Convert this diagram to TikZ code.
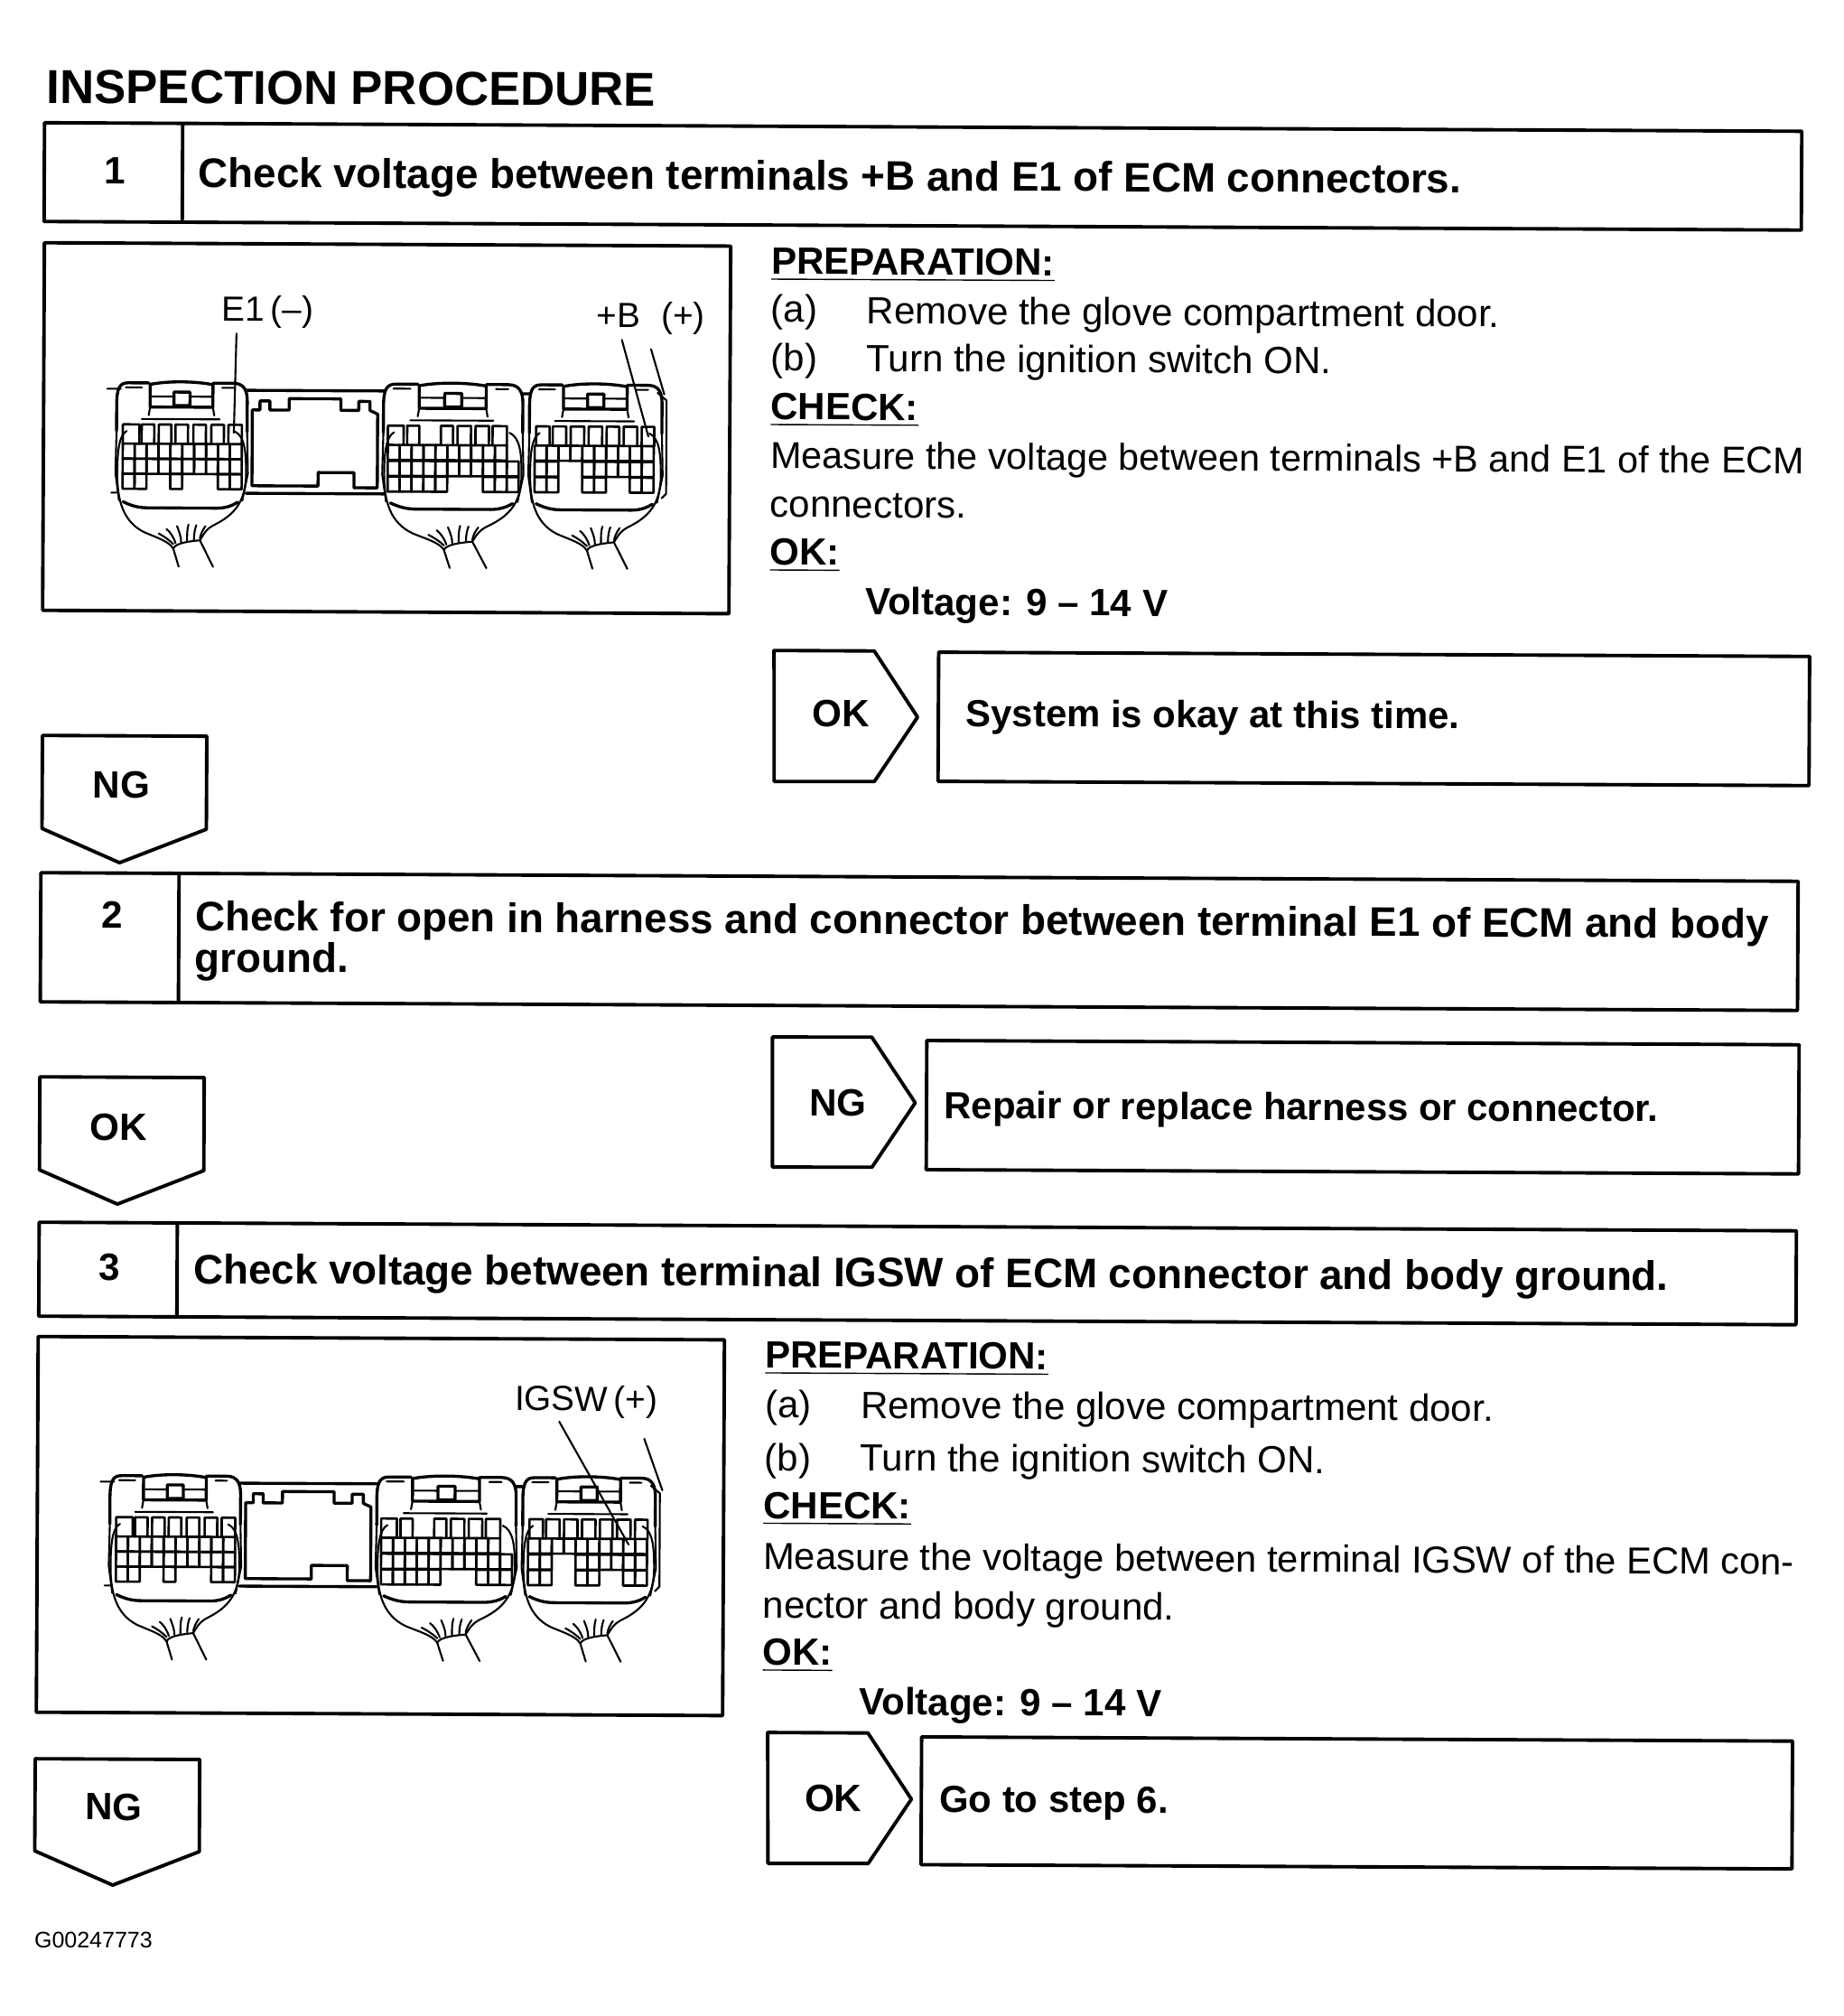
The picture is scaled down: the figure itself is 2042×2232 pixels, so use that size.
\documentclass[tikz,border=0pt]{standalone}
\usepackage{fontspec}
\setmainfont{Liberation Sans}
\newcommand{\plugrow}[3]{\foreach \col in {#3} \draw[cellline] ({#1+\col*26.5},#2) rectangle ++(26.5,50);}
\newcommand{\plugtop}[1]{\foreach \ca/\cb in {#1} \draw[cellline] (\ca,692) -- (\ca,628) -- (\cb,628) -- (\cb,692);}
\newcommand{\plugshell}[2]{%
	\begin{scope}[shift={(#1,0)},xscale=#2]
		\draw[thickline] (0,650) -- (0,565) .. controls (0,510) and (5,490) .. (25,490) -- (70,490);
		\draw[thickline] (210,490) -- (255,490) .. controls (278,490) and (285,515) .. (285,550) -- (285,650);
		\draw[thickline] (73,570) -- (73,495) .. controls (110,483) and (170,483) .. (210,495) -- (210,570) -- cycle;
		\draw[thickline] (125,520) rectangle (160,565);
		\draw[thinline] (75,535) -- (125,535) (160,535) -- (208,535);
		\draw[thinline] (73,570) -- (70,597) (210,570) -- (213,597);
		\draw[thinline] (55,610) -- (225,610) (20,505) -- (55,505) (230,505) -- (255,505);
		\draw[thinline] (22,650) .. controls (5,665) and (2,720) .. (2,790) .. controls (2,880) and (15,950) .. (60,985) .. controls (90,1005) and (115,1015) .. (125,1040);
		\draw[thinline] (258,650) .. controls (280,665) and (283,720) .. (283,790) .. controls (283,880) and (260,925) .. (215,960) .. controls (195,975) and (190,995) .. (183,1012);
		\draw[thinline] (0,650) -- (-2,790) -- (6,880) (285,650) -- (287,790) -- (275,880);
		\draw[thickline] (15,885) .. controls (35,900) and (50,905) .. (70,905) -- (220,905) .. controls (240,905) and (255,895) .. (265,885);
		\draw[thinline] (125,1040) .. controls (130,1020) and (165,1015) .. (183,1012);
		\draw[thinline] (125,1040) -- (137,1100) (183,1012) -- (212,1100);
		\draw[thinline] (125,1025) .. controls (115,1010) and (105,1000) .. (93,990);
		\draw[thinline] (130,1022) .. controls (125,1000) and (118,985) .. (110,975);
		\draw[thinline] (142,1018) .. controls (142,1000) and (138,985) .. (133,965);
		\draw[thinline] (155,1015) .. controls (155,990) and (155,975) .. (158,960);
		\draw[thinline] (170,1012) .. controls (170,990) and (172,975) .. (175,962);
		\draw[thinline] (183,1005) .. controls (185,990) and (190,975) .. (195,965);
	\end{scope}}
\newcommand{\ecmunit}[2]{%
	\begin{scope}[shift={(#1,#2)},xscale=0.4975,yscale=0.3333]
		\plugshell{181}{1.02}
		\plugshell{775}{1.088}
		\plugshell{1100}{1.035}
		\draw[thinline] (160,510) -- (190,510) (170,855) -- (185,855);
		\draw[thickline] (470,513) -- (778,513) (470,855) -- (778,855) (1085,520) -- (1100,520);
		\draw[thickline] (483,830) -- (483,578) -- (500,578) -- (500,548) -- (522,548) -- (522,578) -- (565,578) -- (565,540) -- (680,540) -- (680,578) -- (720,578) -- (720,548) -- (745,548) -- (745,578) -- (762,590) -- (762,835) -- (710,835) -- (710,785) -- (630,785) -- (630,830) -- cycle;
		\draw[thinline] (1385,515) -- (1405,540) -- (1405,850) -- (1395,865);
		\plugtop{195/232,237/265,275/303,312/340,352/380,392/420,430/460}
		\plugrow{195}{692}{0,...,9}
		\plugrow{195}{742}{0,...,9}
		\plugrow{195}{792}{0,1,4,8,9}
		\plugtop{785/820,828/855,903/930,940/970,980/1010,1018/1050}
		\plugrow{785}{692}{0,...,9}
		\plugrow{785}{745}{0,...,10}
		\plugrow{785}{797}{0,1,2,3,4,8,9,10}
		\plugtop{1115/1145,1152/1182,1192/1222,1232/1262,1272/1300,1310/1340,1350/1378}
		\plugrow{1112}{692}{0,...,9}
		\plugrow{1112}{745}{0,1,4,5,6,7,8,9}
		\plugrow{1112}{797}{0,1,4,5,8,9}
	\end{scope}}
\begin{document}
\begin{tikzpicture}[x=0.01cm, y=-0.01cm, line join=round, line cap=round,
	frameline/.style={line width=1.1pt},
	thickline/.style={line width=0.95pt},
	thinline/.style={line width=0.6pt},
	cellline/.style={line width=0.75pt},
	titletext/.style={anchor=base west, inner sep=0pt, font=\fontsize{15}{18}\selectfont\bfseries},
	boldtext/.style={anchor=base west, inner sep=0pt, font=\fontsize{13}{13}\selectfont\bfseries},
	resulttext/.style={anchor=base west, inner sep=0pt, font=\fontsize{11.9}{14}\selectfont\bfseries},
	bodytext/.style={anchor=base west, inner sep=0pt, font=\fontsize{11.95}{14}\selectfont},
	tagtext/.style={anchor=center, inner sep=0pt, font=\fontsize{12}{15}\selectfont\bfseries},
	calltext/.style={anchor=base west, inner sep=0pt, font=\fontsize{11}{13}\selectfont}]
	\useasboundingbox (0,0) rectangle (2042,2232);
	\begin{scope}[rotate=-0.28, transform shape]
		\node[titletext] (title) at (51.6,113.8) {INSPECTION PROCEDURE};
		% step 1
		\draw[frameline] (50,135.6) rectangle (1996,245) (203,135.6) -- (203,245);
		\node[tagtext] (numone) at (128,188.5) {1};
		\node[boldtext] (stepone) at (220,206) {Check voltage between terminals +B and E1 of ECM connectors.};
		\draw[frameline] (50.5,268.5) rectangle (810.5,675.5);
		\ecmunit{41.35}{259.8}
		\node[calltext] (callea) at (247,354) {E1\,(–)};
		\node[calltext] (callb) at (662,359) {+B\hspace{0.6em}(+)};
		\coordinate (eatop) at (263.7,368.1);
		\coordinate (eatip) at (261.3,478);
		\coordinate (btop) at (690.6,373.1);
		\coordinate (btip) at (720.4,479.8);
		\coordinate (bpluss) at (722.9,383.1);
		\coordinate (bplust) at (737.8,433.1);
		\draw[thinline] (eatop) -- (eatip);
		\draw[thinline] (btop) -- (btip);
		\draw[thinline] (bpluss) -- (bplust);
		\node[bodytext] (prepone) at (855,299.5) {\textbf{\underline{PREPARATION:}}};
		\node[bodytext] (aone) at (855,352.5) {(a)};
		\node[bodytext] (aonet) at (961,354) {Remove the glove compartment door.};
		\node[bodytext] (bone) at (855,406.5) {(b)};
		\node[bodytext] (bonet) at (961,406.5) {Turn the ignition switch ON.};
		\node[bodytext] (checkone) at (855,460.5) {\textbf{\underline{CHECK:}}};
		\node[bodytext, font=\fontsize{11.75}{14}\selectfont] (measone) at (855,514.5) {Measure the voltage between terminals +B and E1 of the ECM};
		\node[bodytext] (conone) at (855,568.5) {connectors.};
		\node[bodytext] (okone) at (855,621.5) {\textbf{\underline{OK:}}};
		\node[bodytext] (voltone) at (961,676) {\textbf{Voltage: 9 – 14 V}};
		\draw[frameline] (860.7,716) -- (971.7,716) -- (1020,789) -- (972.5,860.5) -- (861.5,861) -- cycle;
		\node[tagtext] (tagokone) at (935,785.5) {OK};
		\draw[frameline] (1043,717) rectangle (2007.5,860);
		\node[resulttext] (okresult) at (1073,799) {System is okay at this time.};
		\draw[frameline] (51,814) -- (233,814) -- (233,917) -- (137,954.5) -- (51,917) -- cycle;
		\node[tagtext] (tagngone) at (138.5,868) {NG};
		% step 2
		\draw[frameline] (50,966) rectangle (1996,1109) (203,966) -- (203,1109);
		\node[tagtext] (numtwo) at (129,1012) {2};
		\node[boldtext, align=left] (steptwo) at (220.4,1075) {Check for open in harness and connector between terminal E1 of ECM and body\\ground.};
		\draw[frameline] (50,1192) -- (232,1192) -- (232,1295) -- (136.5,1332.5) -- (50,1295) -- cycle;
		\node[tagtext] (tagoktwo) at (137.5,1247) {OK};
		\draw[frameline] (861,1144) -- (971,1143.5) -- (1019.5,1216) -- (972,1287.5) -- (861.7,1288) -- cycle;
		\node[tagtext] (tagngtwo) at (934,1216.5) {NG};
		\draw[frameline] (1032,1147) rectangle (1998,1290);
		\node[resulttext] (ngresult) at (1051,1233) {Repair or replace harness or connector.};
		% step 3
		\draw[frameline] (50,1353) rectangle (1996,1457) (203,1353) -- (203,1457);
		\node[tagtext] (numthree) at (128,1402) {3};
		\node[boldtext] (stepthree) at (220.6,1420) {Check voltage between terminal IGSW of ECM connector and body ground.};
		\draw[frameline] (49.5,1479.5) rectangle (809.5,1895.5);
		\ecmunit{39.85}{1469.8}
		\node[calltext] (calligsw) at (577,1559) {IGSW\,(+)};
		\coordinate (igtop) at (627,1571);
		\coordinate (igtip) at (704.4,1706.7);
		\coordinate (igpluss) at (721.3,1589.6);
		\coordinate (igplust) at (741.6,1646.5);
		\draw[thinline] (igtop) -- (igtip);
		\draw[thinline] (igpluss) -- (igplust);
		\node[bodytext] (preptwo) at (854,1510.5) {\textbf{\underline{PREPARATION:}}};
		\node[bodytext] (atwo) at (854,1565.5) {(a)};
		\node[bodytext] (atwot) at (960,1565.5) {Remove the glove compartment door.};
		\node[bodytext] (btwo) at (854,1624) {(b)};
		\node[bodytext] (btwot) at (960,1624) {Turn the ignition switch ON.};
		\node[bodytext] (checktwo) at (853,1677) {\textbf{\underline{CHECK:}}};
		\node[bodytext, font=\fontsize{11.85}{14}\selectfont] (meastwo) at (853,1733.5) {Measure the voltage between terminal IGSW of the ECM con-};
		\node[bodytext] (contwo) at (853,1787.5) {nector and body ground.};
		\node[bodytext] (oktwo) at (853,1839.5) {\textbf{\underline{OK:}}};
		\node[bodytext] (volttwo) at (960,1894) {\textbf{Voltage: 9 – 14 V}};
		\draw[frameline] (859.5,1914) -- (970.5,1914) -- (1019,1987) -- (971.5,2058.5) -- (860.5,2059) -- cycle;
		\node[tagtext] (tagokthree) at (932.5,1986.5) {OK};
		\draw[frameline] (1030,1918) rectangle (1994.5,2059.5);
		\node[resulttext] (okgo) at (1049.4,2001) {Go to step 6.};
		\draw[frameline] (48.5,1947) -- (230.7,1947) -- (230.7,2049) -- (135,2086.5) -- (48.5,2049) -- cycle;
		\node[tagtext] (tagngthree) at (135.5,2000) {NG};
		\node[anchor=base west, inner sep=0pt, font=\fontsize{7.1}{9}\selectfont] (figcode) at (48,2156) {G00247773};
	\end{scope}
\end{tikzpicture}
\end{document}
